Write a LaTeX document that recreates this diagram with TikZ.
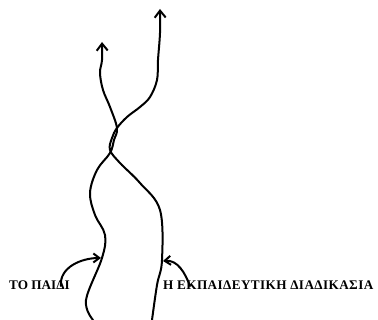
\documentclass[tikz,border=0pt]{standalone}
\usepackage{fontspec}
\setmainfont{Liberation Serif}
\usetikzlibrary{arrows.meta}
\begin{document}
\begin{tikzpicture}[line join=round, line cap=round,>={Straight Barb[length=7pt,width=11pt]},x=1pt,y=-1pt]
\tikzset{every node/.style={font=\bfseries\fontsize{13.2}{15}\selectfont,inner sep=0pt,anchor=base west},
  strand/.style={line width=2pt},
  pointer/.style={line width=2pt,->,>={Straight Barb[length=6pt,width=9pt]}}}
\useasboundingbox (0,0) rectangle (378,320);
% the two strands
\draw[strand,->] plot[smooth,tension=0.6] coordinates {(93,320) (86,300) (102,258) (105,235) (95,215) (90,193) (97,170) (110,153) (114,140) (117,128) (110,107) (103,90) (100,73) (102,60) (102,42)};
\draw[strand,->] plot[smooth,tension=0.6] coordinates {(152,320) (157,285) (162,260) (160,210) (140,183) (120,163) (110,150) (112,138) (117,128) (127,117) (140,107) (150,97) (157,80) (158,60) (160,33) (160,9)};
% arrow targets
\coordinate (child) at (101,258);
\coordinate (edu) at (163,261);
\node (lchild) at (9,290) {ΤΟ ΠΑΙΔΙ};
\node (ledu) at (163,290) {\addfontfeature{LetterSpace=3}Η ΕΚΠΑΙΔΕΥΤΙΚΗ ΔΙΑΔΙΚΑΣΙΑ};
\draw[pointer] ([xshift=-9pt,yshift=-5pt]lchild.north east) to[out=95,in=180] (child);
\draw[pointer] ([xshift=27pt,yshift=-5pt]ledu.north west) to[out=110,in=5] (edu);
\end{tikzpicture}
\end{document}
